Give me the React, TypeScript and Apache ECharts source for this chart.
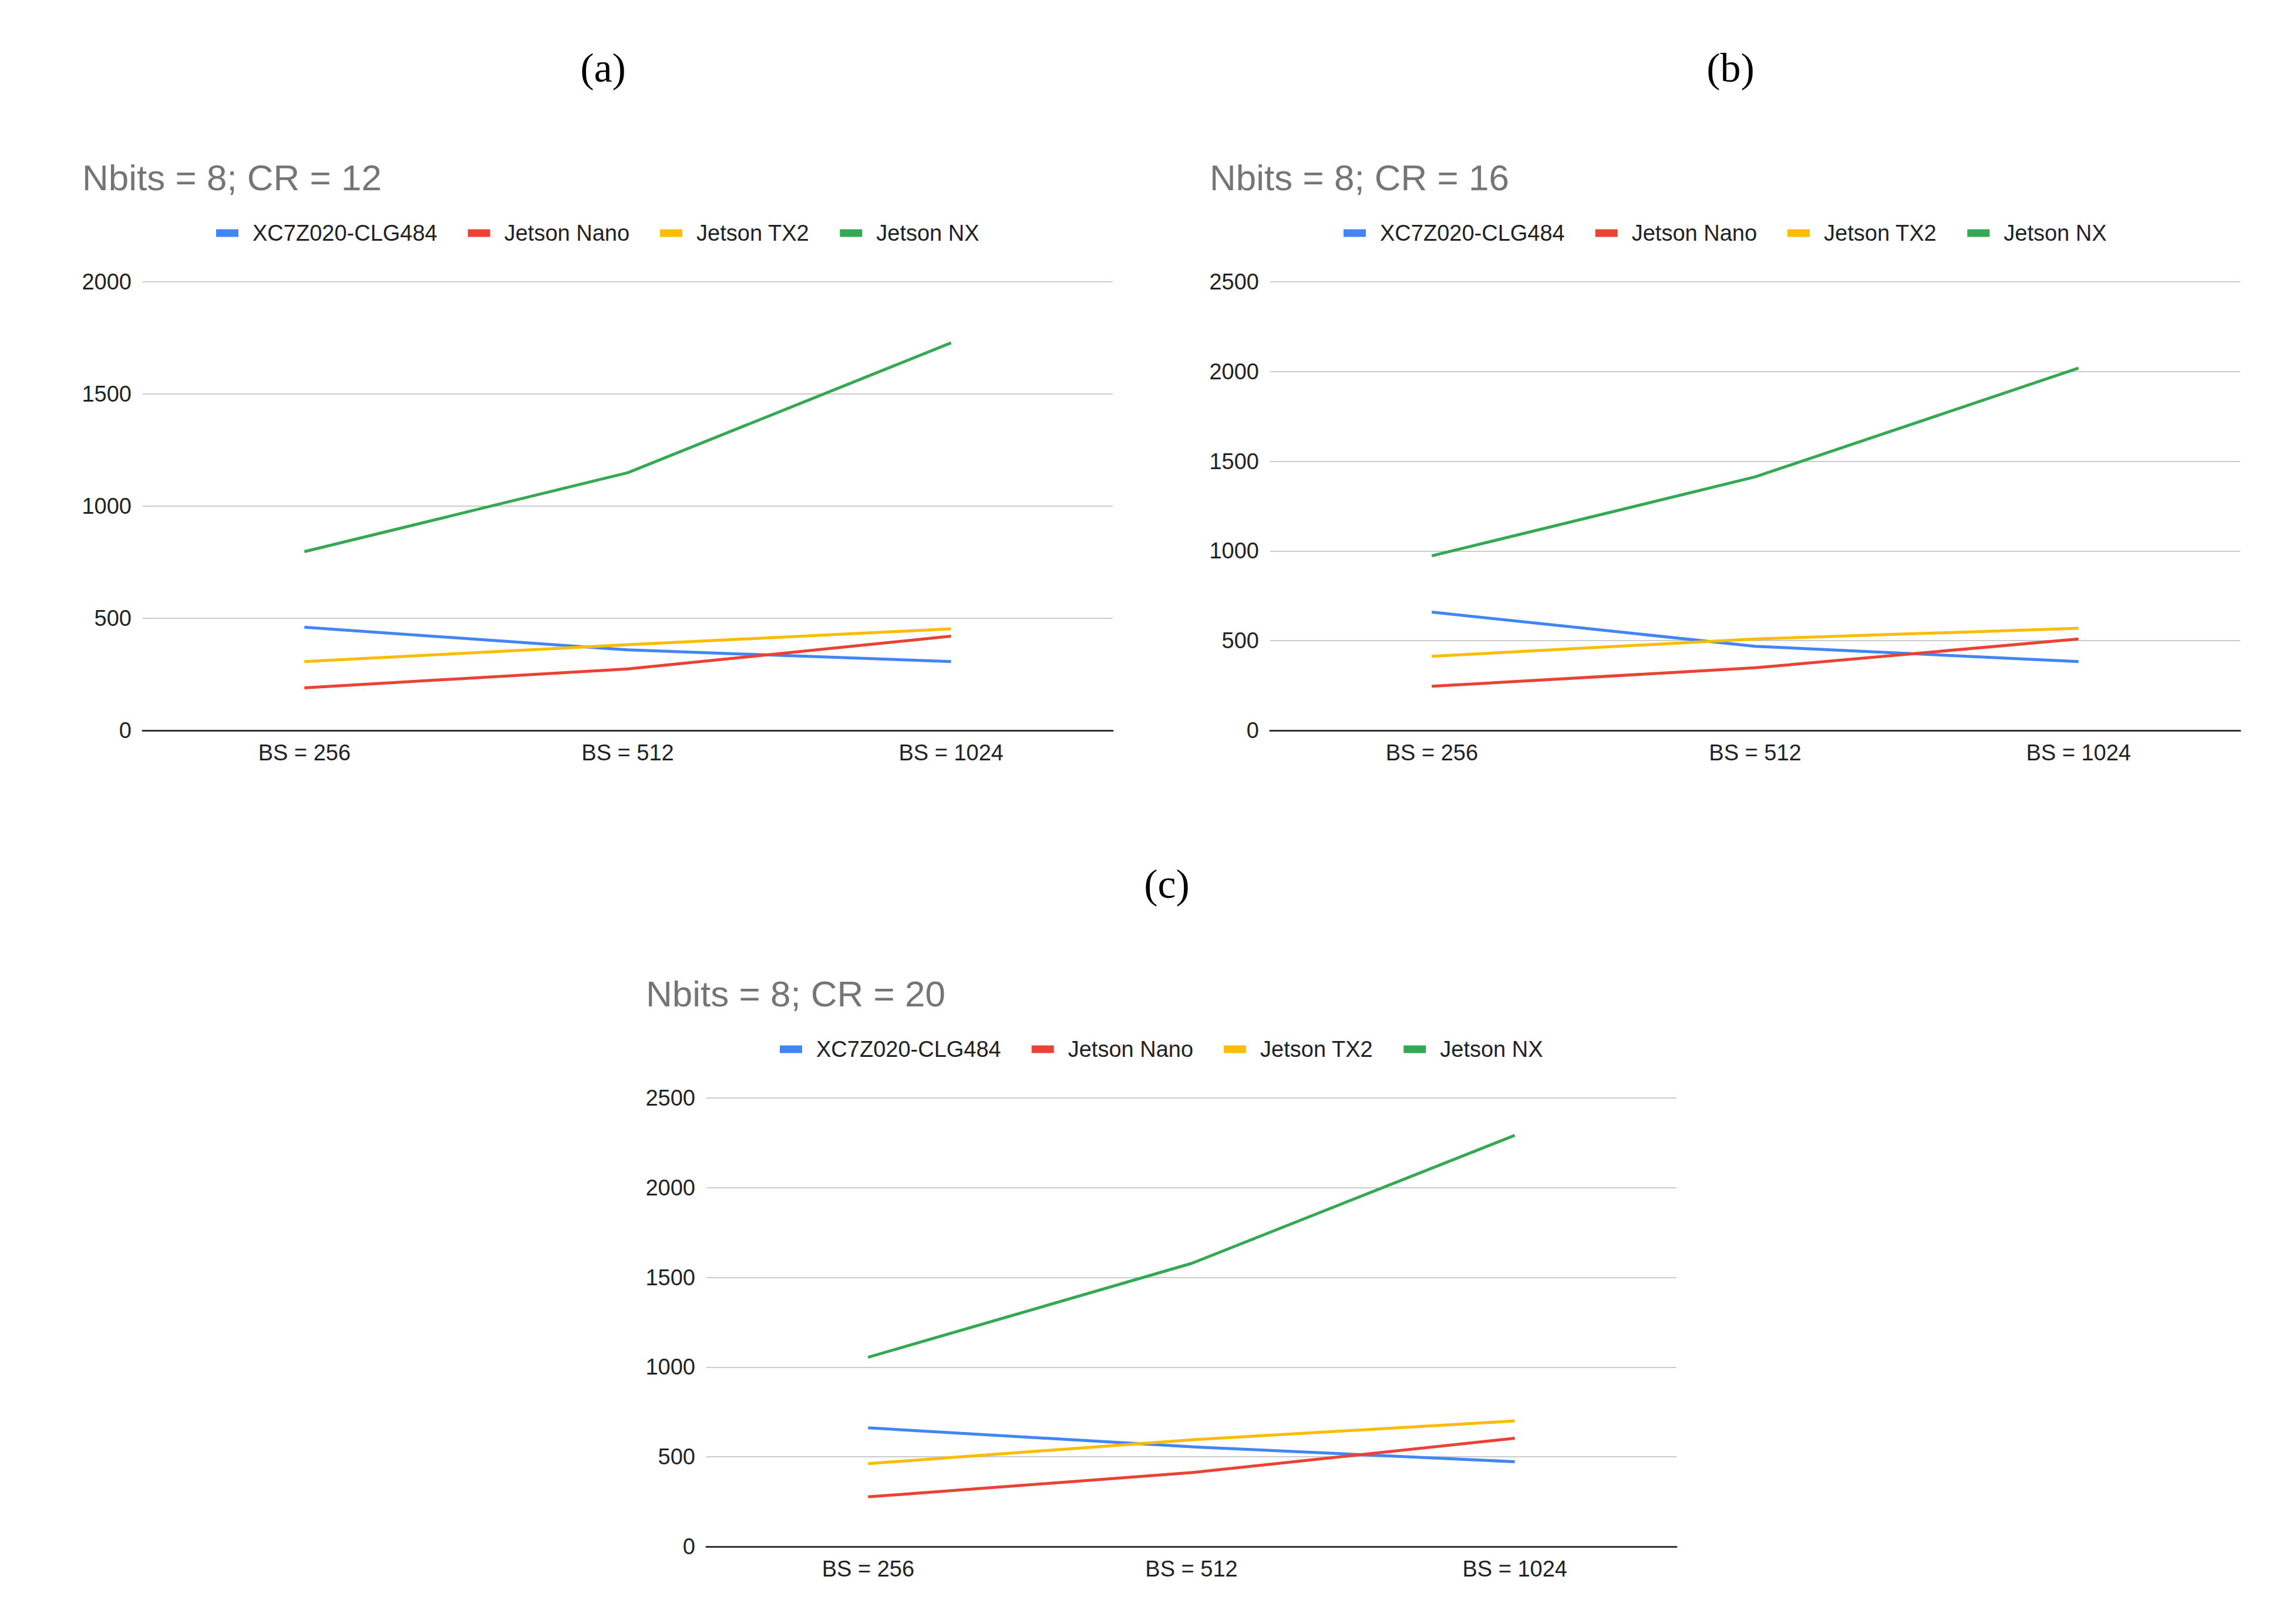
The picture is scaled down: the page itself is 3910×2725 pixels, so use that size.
import React, { useEffect, useRef } from "react";
import * as echarts from "echarts";

const categories = ["BS = 256", "BS = 512", "BS = 1024"];
const seriesNames = ["XC7Z020-CLG484", "Jetson Nano", "Jetson TX2", "Jetson NX"];
const seriesColors = ["#4285F4", "#EA4335", "#FBBC04", "#34A853"];

const panelLabels = ["(a)", "(b)", "(c)"];
const panelTitles = ["Nbits = 8; CR = 12", "Nbits = 8; CR = 16", "Nbits = 8; CR = 20"];
const yMaxes = [2000, 2500, 2500];
const yInterval = 500;

// Panel (a) CR = 12
const xcA = [460, 359, 307];
const nanoA = [190, 274, 420];
const tx2A = [307, 382, 453];
const nxA = [797, 1149, 1728];

// Panel (b) CR = 16
const xcB = [659, 469, 384];
const nanoB = [246, 349, 510];
const tx2B = [413, 510, 569];
const nxB = [973, 1413, 2019];

// Panel (c) CR = 20
const xcC = [662, 556, 473];
const nanoC = [277, 412, 604];
const tx2C = [462, 595, 700];
const nxC = [1055, 1578, 2292];

const panelData = [
  [xcA, nanoA, tx2A, nxA],
  [xcB, nanoB, tx2B, nxB],
  [xcC, nanoC, tx2C, nxC],
];

// layout offsets for each panel
const offsets = [
  [0, 0],
  [1920, 0],
  [960, 1390],
];

const SANS = "'Liberation Sans', Arial, sans-serif";
const SERIF = "'Liberation Serif', 'DejaVu Serif', serif";

export default function App() {
  const ref = useRef<HTMLDivElement>(null);

  useEffect(() => {
    if (!ref.current) return;
    const chart = echarts.init(ref.current, undefined, { renderer: "svg" });

    const grids: any[] = [];
    const xAxes: any[] = [];
    const yAxes: any[] = [];
    const series: any[] = [];
    const titles: any[] = [];
    const legends: any[] = [];
    const graphics: any[] = [];

    offsets.forEach(([dx, dy], i) => {
      grids.push({ left: 243 + dx, top: 480 + dy, width: 1652, height: 764 });
      xAxes.push({
        type: "category",
        gridIndex: i,
        data: categories,
        boundaryGap: true,
        axisLine: { show: true, lineStyle: { color: "#333333", width: 3 } },
        axisTick: { show: false },
        axisLabel: { color: "#222222", fontSize: 38, fontFamily: SANS, margin: 19 },
        splitLine: { show: false },
        z: 5,
      });
      yAxes.push({
        type: "value",
        gridIndex: i,
        min: 0,
        max: yMaxes[i],
        interval: yInterval,
        axisLine: { show: false },
        axisTick: { show: false },
        axisLabel: {
          color: "#222222",
          fontSize: 38,
          fontFamily: SANS,
          margin: 19,
          formatter: (v: number) => String(v),
        },
        splitLine: { show: true, lineStyle: { color: "#cccccc", width: 2 } },
      });
      seriesNames.forEach((name, s) => {
        series.push({
          type: "line",
          name,
          xAxisIndex: i,
          yAxisIndex: i,
          data: panelData[i][s],
          showSymbol: false,
          symbol: "none",
          lineStyle: { color: seriesColors[s], width: 5 },
          itemStyle: { color: seriesColors[s] },
          z: 3,
        });
      });
      titles.push({
        text: panelTitles[i],
        left: 140 + dx,
        top: 271 + dy,
        padding: 0,
        textStyle: { color: "#757575", fontSize: 62, fontWeight: "normal", fontFamily: SANS },
      });
      legends.push({
        data: seriesNames,
        left: 368 + dx,
        top: 378 + dy,
        orient: "horizontal",
        icon: "rect",
        itemWidth: 38,
        itemHeight: 13,
        itemGap: 52,
        padding: 0,
        selectedMode: false,
        textStyle: {
          color: "#222222",
          fontSize: 38,
          fontFamily: SANS,
          padding: [0, 0, 0, 19],
        },
      });
      graphics.push({
        type: "text",
        x: 1027 + dx,
        y: 115 + dy,
        style: {
          text: panelLabels[i],
          fontSize: 70,
          fontFamily: SERIF,
          fill: "#000000",
          align: "center",
          verticalAlign: "middle",
        },
      });
    });

    chart.setOption({
      animation: false,
      backgroundColor: "#ffffff",
      title: titles,
      legend: legends,
      grid: grids,
      xAxis: xAxes,
      yAxis: yAxes,
      series,
      graphic: graphics,
    });

    return () => chart.dispose();
  }, []);

  return (
    <div
      ref={ref}
      style={{ position: "absolute", left: 0, top: 0, width: 3910, height: 2725, background: "#fff" }}
    />
  );
}
